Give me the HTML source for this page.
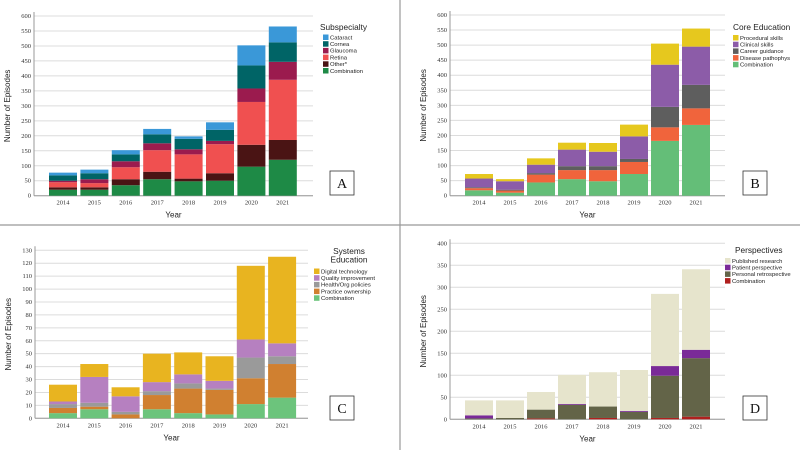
<!DOCTYPE html>
<html><head><meta charset="utf-8"><style>
body{margin:0;background:#fff}
svg{display:block}
.t{font-family:"Liberation Serif",serif;font-size:6.5px;fill:#333}
.s{font-family:"Liberation Sans",sans-serif;fill:#222}
</style></head><body>
<svg id="c" width="800" height="450" viewBox="0 0 800 450" xmlns="http://www.w3.org/2000/svg">
<rect width="800" height="450" fill="#fff"/>
<line x1="400" y1="0" x2="400" y2="450" stroke="#999" stroke-width="1.2"/>
<line x1="0" y1="225" x2="800" y2="225" stroke="#999" stroke-width="1.2"/>
</svg>
<script>
const years=["2014","2015","2016","2017","2018","2019","2020","2021"];
// Panel A (bottom to top)
const aSeries=["Combination","Other*","Retina","Glaucoma","Cornea","Cataract"];
const aComb=[20,20,35,55,48,50,97,120];
const aOther=[8,8,20,25,9,25,73,66];
const aRetina=[17,14,40,72,81,97,143,201];
const aGlauc=[5,13,20,23,17,11,45,60];
const aCornea=[18,20,23,30,35,37,77,65];
const aCataract=[9,12,14,18,8,25,67,53];
const aTicks=[0,50,100,150,200,250,300,350,400,450,500,550,600];
// Panel B
const bSeries=["Combination","Disease pathophys","Career guidance","Clinical skills","Procedural skills"];
const bComb=[18,10,44,55,48,72,182,235];
const bDisease=[7,7,26,30,37,40,45,55];
const bCareer=[3,3,5,13,13,10,68,78];
const bClinical=[29,28,28,55,48,75,140,127];
const bProc=[15,7,21,23,29,39,70,60];
const bTicks=[0,50,100,150,200,250,300,350,400,450,500,550,600];
// Panel C
const cSeries=["Combination","Practice ownership","Health/Org policies","Quality improvement","Digital technology"];
const cComb=[4,7,0,7,4,3,11,16];
const cPractice=[4,2,3,11,19,19,20,26];
const cHealth=[3,3,2,3,4,1,16,6];
const cQuality=[2,20,12,7,7,6,14,10];
const cDigital=[13,10,7,22,17,19,57,67];
const cTicks=[0,10,20,30,40,50,60,70,80,90,100,110,120,130];
// Panel D
const dSeries=["Combination","Personal retrospective","Patient perspective","Published research"];
const dComb=[0,0,2,0,3,0,3,6];
const dPersonal=[2,3,20,33,26,17,96,133];
const dPatient=[7,0,0,2,0,2,22,19];
const dPublished=[34,40,40,66,78,93,164,183];
const dTicks=[0,50,100,150,200,250,300,350,400];

const svg=document.getElementById('c');
const NS='http://www.w3.org/2000/svg';
function mk(tag,attrs,parent){const e=document.createElementNS(NS,tag);for(const k in attrs)e.setAttribute(k,attrs[k]);(parent||svg).appendChild(e);return e;}

function panel(p){
  const g=mk('g',{});
  
  
  const max=p.ticks[p.ticks.length-1];
  const y=v=>p.y0-(v/max)*(p.y0-p.yTop);
  const x=i=>p.x0c+i*p.step;
  p.ticks.forEach(t=>{
    const ln=mk('line',{x1:p.axL,x2:p.axR,y1:y(t),y2:y(t),stroke:'#dcdcdc','stroke-width':1},g);
    
    
    const tx=mk('text',{x:p.axL-3,y:y(t)+2,'text-anchor':'end',class:'t'},g);
    tx.textContent=t;
    
    
  });
  const al=mk('line',{x1:p.axL,x2:p.axL,y1:p.yTop-4,y2:p.y0,stroke:'#999','stroke-width':1},g);
  
  
  const ab=mk('line',{x1:p.axL,x2:p.axR,y1:p.y0,y2:p.y0,stroke:'#999','stroke-width':1},g);
  
  
  years.forEach((yr,i)=>{
    let cum=0;
    p.data.forEach((arr,k)=>{
      const v=arr[i];
      const r=mk('rect',{x:x(i)-p.bw/2,y:y(cum+v),width:p.bw,height:y(cum)-y(cum+v),fill:p.colors[k]},g);
      
      
      cum+=v;
    });
    const tx=mk('text',{x:x(i),y:p.y0+9,'text-anchor':'middle',class:'t'},g);
    tx.textContent=yr;
    
    
  });
  const xt=mk('text',{x:(p.axL+p.axR)/2,y:p.y0+22,'text-anchor':'middle',class:'s','font-size':8},g);
  xt.textContent='Year';
  
  
  const ytx=p.axL-24, yty=(p.y0+p.yTop)/2;
  const yt=mk('text',{x:ytx,y:yty,'text-anchor':'middle',class:'s','font-size':8,transform:'rotate(-90 '+ytx+' '+yty+')'},g);
  yt.textContent='Number of Episodes';
  
  
  p.title.forEach((line,j)=>{
    const lt=mk('text',{x:p.lgTx,y:p.lgTy+j*8.5,'text-anchor':p.lgAnchor,class:'s','font-size':8.3},g);
    lt.textContent=line;
    
    
  });
  const n=p.names.length;
  for(let j=0;j<n;j++){
    const k=n-1-j;
    const yy=p.lgY+j*6.7;
    const sw=mk('rect',{x:p.lgX,y:yy,width:5.5,height:5.5,fill:p.colors[k]},g);
    
    
    const lt=mk('text',{x:p.lgX+7,y:yy+4.8,class:'s','font-size':5.9},g);
    lt.textContent=p.names[k];
    
    
  }
  const bx=mk('rect',{x:p.boxX,y:p.boxY,width:24,height:24,fill:'#fff',stroke:'#333','stroke-width':0.8},g);
  
  
  const bl=mk('text',{x:p.boxX+12,y:p.boxY+17,'text-anchor':'middle','font-family':'Liberation Serif, serif','font-size':14,fill:'#111'},g);
  bl.textContent=p.id.toUpperCase();
  
  
}

panel({id:'a',data:[aComb,aOther,aRetina,aGlauc,aCornea,aCataract],names:aSeries,
 colors:['#1e8a46','#4a1414','#f05050','#9b1b4e','#006466','#3a98d8'],ticks:aTicks,
 y0:195.7,yTop:16,axL:34,axR:313,x0c:63,step:31.4,bw:28,
 title:['Subspecialty'],lgTx:320,lgTy:30,lgAnchor:'start',lgX:323,lgY:34.5,boxX:330,boxY:171});
panel({id:'b',data:[bComb,bDisease,bCareer,bClinical,bProc],names:bSeries,
 colors:['#64be78','#f0643c','#5e5e5e','#8c5ca8','#e6c81e'],ticks:bTicks,
 y0:195.7,yTop:15,axL:450,axR:725,x0c:479,step:31,bw:28,
 title:['Core Education'],lgTx:733,lgTy:30,lgAnchor:'start',lgX:733,lgY:35,boxX:743,boxY:171});
panel({id:'c',data:[cComb,cPractice,cHealth,cQuality,cDigital],names:cSeries,
 colors:['#6cc47c','#d08030','#9a9a9a','#b680c0','#e8b420'],ticks:cTicks,
 y0:418.3,yTop:250.3,axL:35,axR:308,x0c:63,step:31.3,bw:28,
 title:['Systems','Education'],lgTx:349,lgTy:254,lgAnchor:'middle',lgX:314,lgY:268.5,boxX:330,boxY:396});
panel({id:'d',data:[dComb,dPersonal,dPatient,dPublished],names:dSeries,
 colors:['#b0201e','#636448','#7a2a98','#e6e4cc'],ticks:dTicks,
 y0:419.3,yTop:243.3,axL:450,axR:725,x0c:479,step:31,bw:28,
 title:['Perspectives'],lgTx:735,lgTy:253,lgAnchor:'start',lgX:725,lgY:258,boxX:743,boxY:396});
</script>
</body></html>
